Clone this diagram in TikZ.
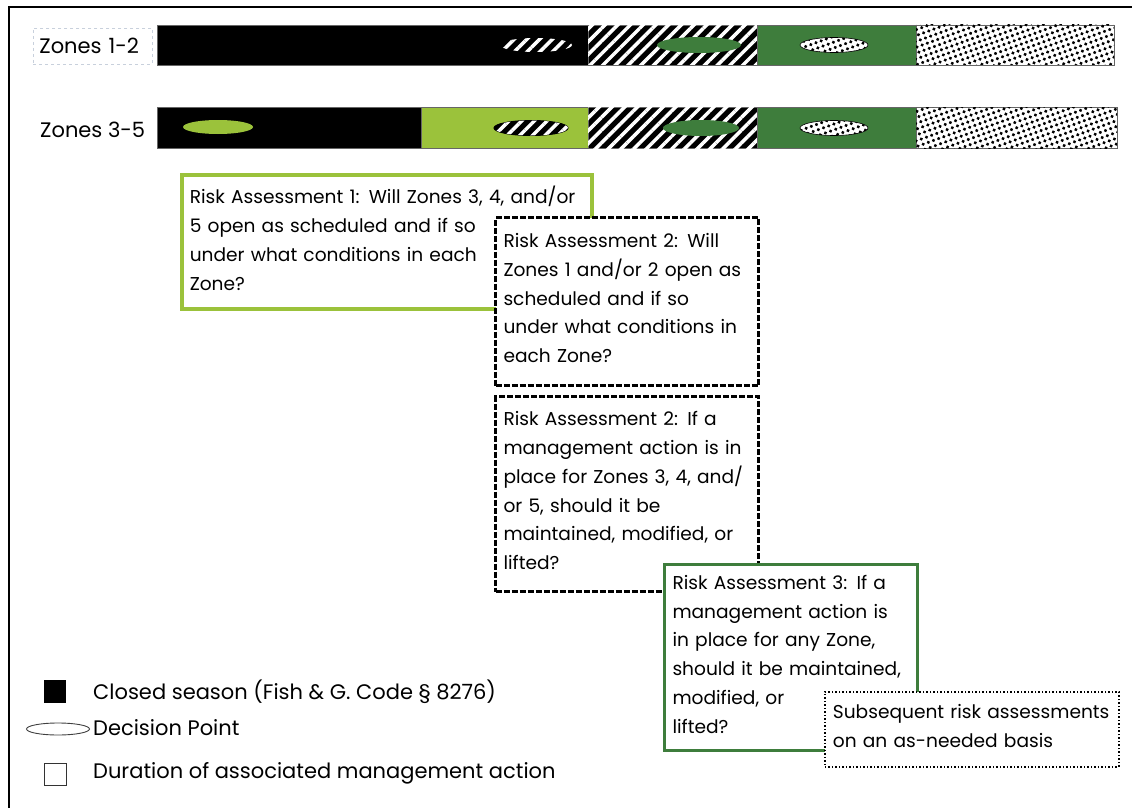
\documentclass[tikz,border=0pt]{standalone}
\usepackage{fontspec}
\setmainfont{Poppins}
\usetikzlibrary{patterns.meta,shapes.geometric}
\definecolor{lgreen}{RGB}{155,194,59}
\definecolor{dgreen}{RGB}{62,125,60}
\definecolor{zonebox}{RGB}{200,208,220}
\newcommand{\raiseup}{\\[-22pt]\mbox{}}
\begin{document}
\begin{tikzpicture}[x=1pt,y=-1pt,
  txt/.style={font=\fontsize{18.6}{28.8}\selectfont},
  bigtxt/.style={font=\fontsize{21}{28}\selectfont},
  seg/.style={draw=black!60, line width=0.8pt},
  hatch/.style={fill=black, postaction={pattern={Lines[angle=45,distance=9pt,line width=3.5pt]}, pattern color=white}},
  dots/.style={fill=white, postaction={pattern={Dots[distance=5.5pt,radius=1.75pt,angle=20]}, pattern color=black}},
  dp/.style={ellipse, minimum width=84pt, minimum height=16pt, inner sep=0pt},
  rabox/.style={txt, rectangle, fill=white, align=left, inner xsep=8pt, inner ysep=0pt, anchor=north west},
  legtxt/.style={bigtxt, anchor=west, inner sep=0pt}
]
\useasboundingbox (0,0) rectangle (1132,808);
\draw[line width=2.5pt] (9,808) -- (9,7) -- (1132,7);

% Row Zones 1-2
\node[draw=zonebox, dashed, line width=0.8pt, minimum width=119pt, minimum height=36pt, anchor=west, bigtxt, text width=107pt, align=left, inner xsep=6pt] (z12) at (33,46) {Zones 1-2};
\path[seg, fill=black] (157,25) rectangle (588,65);
\path[seg, hatch] (588,25) rectangle (757,65);
\path[seg, fill=dgreen] (757,25) rectangle (916,65);
\path[seg, dots] (916,25) rectangle (1114,65);
\node[dp, minimum width=72pt, minimum height=14pt, hatch] (h1) at (536,45) {};
\node[dp, fill=dgreen] (g1) at (699,45) {};
\node[dp, minimum width=68pt, minimum height=15pt, draw=black, line width=0.6pt, dots] (d1) at (834,45) {};

% Row Zones 3-5
\node[bigtxt, anchor=west, inner sep=0pt] (z35) at (40,130) {Zones 3-5};
\path[seg, fill=black] (157,107) rectangle (421,148);
\path[seg, fill=lgreen] (421,107) rectangle (588,148);
\path[seg, hatch] (588,107) rectangle (757,148);
\path[seg, fill=dgreen] (757,107) rectangle (916,148);
\path[seg, dots] (916,107) rectangle (1117,148);
\node[dp, minimum width=70pt, minimum height=14pt, fill=lgreen] (l2) at (218,127) {};
\node[dp, minimum width=74pt, minimum height=15pt, draw=black, line width=1pt, hatch] (h2) at (531,128) {};
\node[dp, minimum width=76pt, fill=dgreen] (g2) at (701,128) {};
\node[dp, minimum width=68pt, minimum height=15pt, draw=black, line width=0.6pt, dots] (d2) at (834,128) {};

% Risk assessment boxes
\node[rabox, draw=lgreen, line width=3.5pt, minimum width=410pt, minimum height=134pt, text width=394pt] (ra1) at (180,173)
 {Risk Assessment 1: Will Zones 3, 4, and/or\\5 open as scheduled and if so\\under what conditions in each\\Zone?\raiseup};
\node[rabox, draw=black, line width=3pt, dash pattern=on 6pt off 2pt, minimum width=263pt, minimum height=168pt, text width=247pt] (ra2a) at (494,216)
 {Risk Assessment 2: Will\\Zones 1 and/or 2 open as\\scheduled and if so\\under what conditions in\\each Zone?\raiseup};
\node[rabox, draw=black, line width=3pt, dash pattern=on 6pt off 2pt, minimum width=263pt, minimum height=195pt, text width=247pt] (ra2b) at (494,395)
 {Risk Assessment 2: If a\\management action is in\\place for Zones 3, 4, and/\\or 5, should it be\\maintained, modified, or\\lifted?\raiseup};
\node[rabox, draw=dgreen, line width=3pt, minimum width=253pt, minimum height=186pt, text width=237pt] (ra3) at (663,563)
 {Risk Assessment 3: If a\\management action is\\in place for any Zone,\\should it be maintained,\\modified, or\\lifted?\raiseup};
\node[rabox, draw=black, line width=1.8pt, dash pattern=on 1.5pt off 2pt, minimum width=294pt, minimum height=75pt, text width=278pt] (sub) at (824,691)
 {Subsequent risk assessments\\on an as-needed basis\raiseup};

% Legend
\node[fill=black, minimum width=22pt, minimum height=23pt, inner sep=0pt] (lk1) at (55,691) {};
\node[legtxt] (lt1) at (93,692) {Closed season (Fish \& G. Code § 8276)};
\node[ellipse, draw=black!75, line width=0.9pt, minimum width=63pt, minimum height=12pt, inner sep=0pt] (lk2) at (58,729) {};
\node[legtxt] (lt2) at (93,728) {Decision Point};
\node[draw=black!80, line width=1pt, minimum width=22pt, minimum height=22pt, inner sep=0pt] (lk3) at (55,774) {};
\node[legtxt] (lt3) at (93,773) {Duration of associated management action};
\end{tikzpicture}
\end{document}
